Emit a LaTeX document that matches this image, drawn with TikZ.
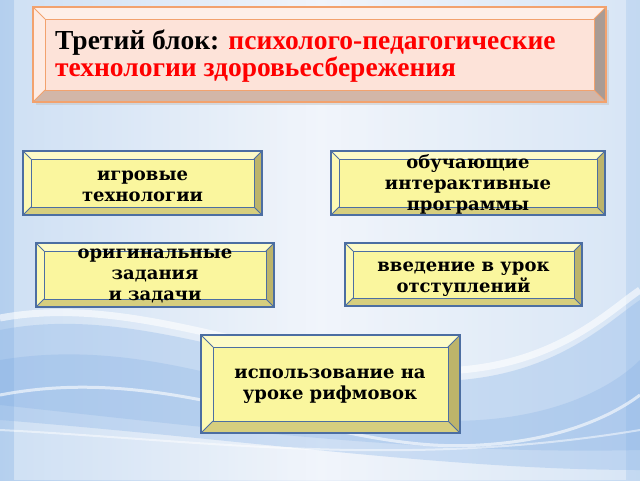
\documentclass[tikz,border=0pt]{standalone}
\usepackage{fontspec}
\setmainfont{Liberation Serif}
\newfontfamily\boxfont{DejaVu Serif}
\definecolor{bgblue}{HTML}{B4CFEE}
\definecolor{bgmid}{HTML}{EAF0F9}
\definecolor{wave}{HTML}{8DB6E8}
\definecolor{wavedeep}{HTML}{6FA2E0}
\definecolor{yfront}{HTML}{FAF69E}
\definecolor{ytop}{HTML}{FDFBC8}
\definecolor{yleft}{HTML}{FCF9B4}
\definecolor{yright}{HTML}{BDB46A}
\definecolor{ybottom}{HTML}{D6CE7E}
\definecolor{yedge}{HTML}{4C6EA2}
\definecolor{pfront}{HTML}{FDE3D9}
\definecolor{ptop}{HTML}{FEEFE8}
\definecolor{pleft}{HTML}{FEEBE3}
\definecolor{pright}{HTML}{A99B94}
\definecolor{pbottom}{HTML}{D2B6A8}
\definecolor{pedge}{HTML}{F2A26E}
\newcommand\bevbox[7]{%
 \fill[#6top] (#1,#2) -- (#3,#2) -- (#3-#5,#2+#5) -- (#1+#5,#2+#5) -- cycle;
 \fill[#6left] (#1,#2) -- (#1+#5,#2+#5) -- (#1+#5,#4-#5) -- (#1,#4) -- cycle;
 \fill[#6right] (#3,#2) -- (#3,#4) -- (#3-#5,#4-#5) -- (#3-#5,#2+#5) -- cycle;
 \fill[#6bottom] (#1,#4) -- (#3,#4) -- (#3-#5,#4-#5) -- (#1+#5,#4-#5) -- cycle;
 \fill[#6front] (#1+#5,#2+#5) rectangle (#3-#5,#4-#5);
 \draw[#7,line width=1.3pt] (#1,#2) rectangle (#3,#4);
 \draw[#7,line width=1pt] (#1+#5,#2+#5) rectangle (#3-#5,#4-#5);
 \draw[#7,line width=0.8pt] (#1,#2) -- (#1+#5,#2+#5) (#3,#2) -- (#3-#5,#2+#5)
   (#1,#4) -- (#1+#5,#4-#5) (#3,#4) -- (#3-#5,#4-#5);
}
\tikzset{
  boxtext/.style={font=\boxfont\bfseries\fontsize{18}{21}\selectfont, align=center, text=black, inner sep=0pt},
}
\begin{document}
\begin{tikzpicture}[x=1pt,y=-1pt]
\useasboundingbox (0,0) rectangle (640,480);
% background
\shade[left color=bgblue, right color=bgblue!80, middle color=bgmid] (0,0) rectangle (640,480);
\fill[white, opacity=0.35] (14,0) rectangle (626,480);
% waves
\fill[wave, opacity=0.35] (0,330) .. controls (150,300) and (300,390) .. (460,380)
   .. controls (560,372) and (610,320) .. (640,300) -- (640,470)
   .. controls (450,470) and (250,440) .. (0,420) -- cycle;
\fill[wavedeep, opacity=0.2] (0,360) .. controls (180,330) and (320,430) .. (480,420)
   .. controls (570,414) and (620,380) .. (640,360) -- (640,450)
   .. controls (430,455) and (230,430) .. (0,405) -- cycle;
\draw[white, line width=7pt, opacity=0.6] (0,318) .. controls (150,290) and (300,380) .. (460,370)
   .. controls (560,362) and (610,310) .. (640,290);
\draw[white, line width=3pt, opacity=0.6] (0,395) .. controls (180,360) and (330,455) .. (480,445)
   .. controls (570,440) and (620,410) .. (640,395);
\draw[white, line width=2pt, opacity=0.5] (0,430) .. controls (200,440) and (400,470) .. (640,430);
% title
\fill[gray!50, opacity=0.45] (36,10) rectangle (609,105);
\bevbox{33}{7}{606}{102}{12}{p}{pedge}
\node[anchor=base west, align=left, inner sep=0pt,
  font=\bfseries\fontsize{27.5}{25}\selectfont] (title) at (55,76)
  {Третий блок: \textcolor{red}{психолого-педагогические}\\\textcolor{red}{технологии здоровьесбережения}};
% boxes
\bevbox{23}{151}{262}{215}{8}{y}{yedge}
\node[boxtext] (b1) at (142.5,186) {игровые\\технологии};
\bevbox{331}{151}{605}{215}{8}{y}{yedge}
\node[boxtext] (b2) at (468,184) {обучающие\\интерактивные\\программы};
\bevbox{36}{243}{274}{307}{8}{y}{yedge}
\node[boxtext] (b3) at (155,276) {оригинальные\\задания\\и задачи};
\bevbox{345}{243}{582}{306}{8}{y}{yedge}
\node[boxtext] (b4) at (463.5,279) {введение в урок\\отступлений};
\bevbox{201}{335}{460}{433}{12}{y}{yedge}
\node[boxtext] (b5) at (330,386) {использование на\\уроке рифмовок};
\end{tikzpicture}
\end{document}
